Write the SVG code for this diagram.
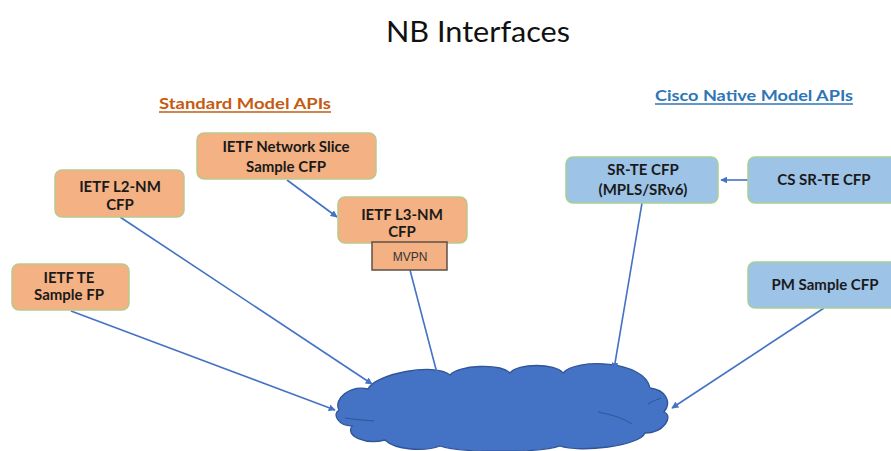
<svg xmlns="http://www.w3.org/2000/svg" width="891" height="451" viewBox="0 0 891 451">
<style>
.t{font-family:Lato,"Open Sans","Liberation Sans",sans-serif;font-weight:bold;font-size:15px;fill:#1a1a1a;text-anchor:middle}
.or{fill:#F4B183;stroke:#B9C98C;stroke-width:1.5}
.bl{fill:#9DC3E6;stroke:#A9CF93;stroke-width:1.5}
.c{stroke:#4472C4;stroke-width:1.6;fill:none}
.h{font-family:Lato,"Open Sans","Liberation Sans",sans-serif;font-weight:bold;font-size:15px;text-anchor:middle}
</style>
<defs>
<marker id="ar" viewBox="0 0 10 10" refX="9" refY="5" markerWidth="7" markerHeight="7" markerUnits="userSpaceOnUse" orient="auto">
<path d="M0,0 L10,5 L0,10 z" fill="#4472C4"/>
</marker>
</defs>
<rect width="891" height="451" fill="#ffffff"/>
<text x="478" y="42" font-family="Lato,'Open Sans','Liberation Sans',sans-serif" font-size="29" fill="#111" text-anchor="middle" textLength="184" lengthAdjust="spacingAndGlyphs">NB Interfaces</text>
<text class="h" x="245" y="109" fill="#C55A11" textLength="172" lengthAdjust="spacingAndGlyphs">Standard Model APIs</text>
<line x1="159" y1="112" x2="331" y2="112" stroke="#C55A11" stroke-width="1.3"/>
<text class="h" x="754" y="101" fill="#2E75B6" textLength="198" lengthAdjust="spacingAndGlyphs">Cisco Native Model APIs</text>
<line x1="655" y1="104" x2="853" y2="104" stroke="#2E75B6" stroke-width="1.3"/>

<g id="cloud">
<path d="M339,410 C333,399 350,385 368,389 C375,374 435,362 450,375 C458,365 500,363 510,373 C517,363 556,363 563,373 C575,358 645,360 650,388 C666,390 672,402 664,412 C674,416 664,433 645,433 C640,446 580,453 560,446 C540,453 460,453 440,446 C425,452 395,450 385,440 C365,445 345,436 352,426 C338,426 332,414 339,410 Z" fill="#4472C4" stroke="#2F5597" stroke-width="1.3"/>
<path d="M345,418 Q358,420 374,421 M598,412 Q620,416 632,424 M648,404 Q655,400 661,398" fill="none" stroke="#2F5597" stroke-width="1"/>
</g>

<g id="connectors">
<line class="c" x1="287" y1="180" x2="337" y2="217" marker-end="url(#ar)"/>
<line class="c" x1="120" y1="217" x2="372" y2="384" marker-end="url(#ar)"/>
<line class="c" x1="71" y1="311" x2="335" y2="410" marker-end="url(#ar)"/>
<line class="c" x1="410" y1="270" x2="438" y2="377"/>
<line class="c" x1="642" y1="203" x2="614" y2="369" marker-end="url(#ar)"/>
<line class="c" x1="824" y1="308" x2="672" y2="408" marker-end="url(#ar)"/>
<line class="c" x1="748" y1="180" x2="721" y2="180" marker-end="url(#ar)"/>
</g>

<g id="slice">
<rect class="or" x="197" y="133" width="179" height="46" rx="7"/>
<text class="t" x="286" y="152">IETF Network Slice</text>
<text class="t" x="286" y="172">Sample CFP</text>
</g>
<g id="l2nm">
<rect class="or" x="55" y="170" width="129" height="47" rx="7"/>
<text class="t" x="120" y="192">IETF L2-NM</text>
<text class="t" x="120" y="210">CFP</text>
</g>
<g id="l3nm">
<rect class="or" x="338" y="197" width="129" height="46" rx="7"/>
<text class="t" x="402" y="220">IETF L3-NM</text>
<text class="t" x="402" y="237">CFP</text>
</g>
<g id="mvpn">
<rect x="372" y="242" width="75" height="28" fill="#F4B183" stroke="#5E5048" stroke-width="1.5"/>
<text x="410" y="261" font-family="'Liberation Sans',Arial,sans-serif" font-size="12" fill="#333" text-anchor="middle">MVPN</text>
</g>
<g id="te">
<rect class="or" x="12" y="264" width="117" height="46" rx="7"/>
<text class="t" x="69" y="283">IETF TE</text>
<text class="t" x="69" y="300">Sample FP</text>
</g>
<g id="srte">
<rect class="bl" x="566" y="157" width="152" height="46" rx="7"/>
<text class="t" x="643" y="175">SR-TE CFP</text>
<text class="t" x="643" y="195">(MPLS/SRv6)</text>
</g>
<g id="cssrte">
<rect class="bl" x="748" y="157" width="152" height="46" rx="7"/>
<text class="t" x="824" y="185">CS SR-TE CFP</text>
</g>
<g id="pm">
<rect class="bl" x="748" y="262" width="152" height="46" rx="7"/>
<text class="t" x="825" y="290">PM Sample CFP</text>
</g>
</svg>
